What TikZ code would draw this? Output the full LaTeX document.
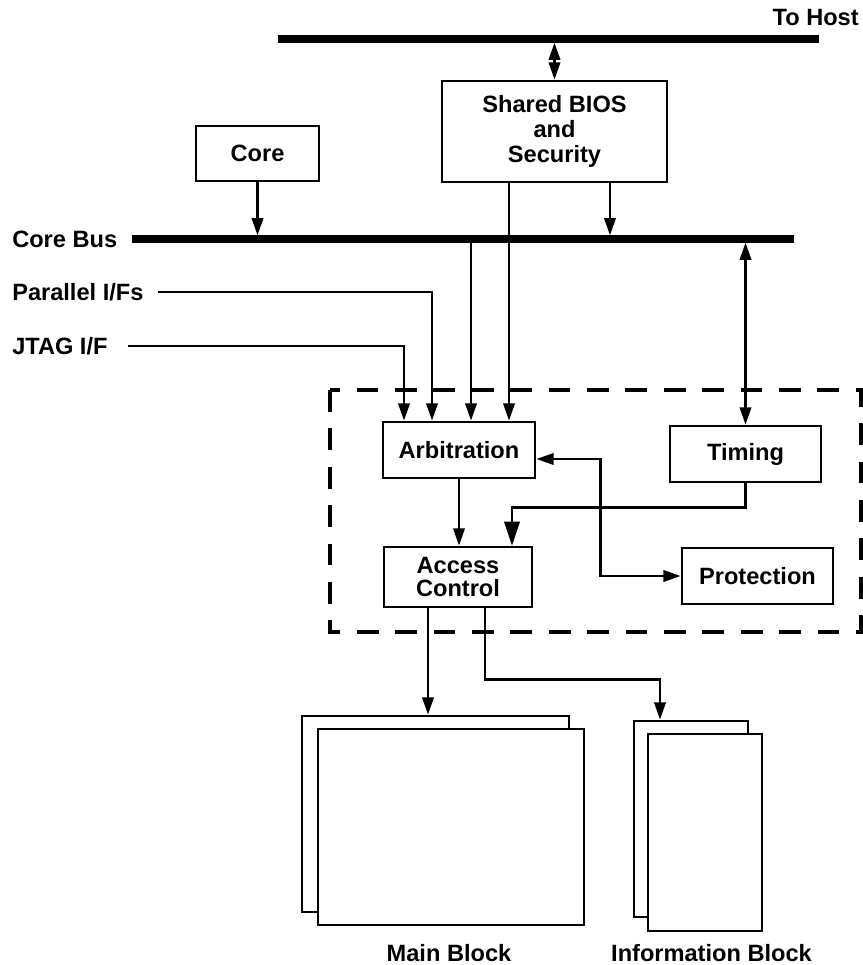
\documentclass[tikz,border=0pt]{standalone}
\usepackage{fontspec}
\setmainfont{Liberation Sans}
\usepackage{tikz}
\usetikzlibrary{arrows.meta,positioning,calc}
\tikzset{
  every node/.style={font=\bfseries\fontsize{17.7pt}{19pt}\selectfont},
  blk/.style={draw,line width=2pt,fill=white,align=center,inner sep=0pt},
  lbl/.style={inner sep=0pt},
  bus/.style={line width=5.5pt},
  wire/.style={line width=2pt},
  grp/.style={line width=2.3pt,dash pattern=on 16.3pt off 12.5pt},
  bigtip/.style={-{Triangle[length=18pt,width=11.5pt]}}
}

\begin{document}
\begin{tikzpicture}[x=.75pt,y=-.75pt,>={Triangle[length=13pt,width=8.5pt]}]
  \useasboundingbox (0,0) rectangle (863,965);
  \coordinate (hostW) at (278,39);
  \coordinate (hostE) at (819,39);
  \coordinate (busW) at (132,239);
  \coordinate (busE) at (794,239);
  \coordinate (parS) at (158,292);
  \coordinate (jtagS) at (128,346);

  \node[lbl,anchor=east] (host) at (859,17) {To Host};
  \node[lbl,anchor=west] (corebus) at (12,239) {Core Bus};
  \node[lbl,anchor=west] (par) at (12,292) {Parallel I/Fs};
  \node[lbl,anchor=west] (jtag) at (12,346) {JTAG I/F};

  \node[blk,minimum width=168.75pt,minimum height=75.75pt] (bios) at (554.5,131.5) {Shared BIOS\\and\\Security};
  \node[blk,minimum width=92.25pt,minimum height=41.25pt] (core) at (257.5,153.5) {Core};
  \node[blk,minimum width=114pt,minimum height=42pt] (arb) at (459,450) {Arbitration};
  \node[blk,minimum width=111pt,minimum height=45pt] (acc) at (458,577) {Access\\[-1.5pt]Control};
  \node[blk,minimum width=113.25pt,minimum height=42pt] (timing) at (745.5,454) {Timing};
  \node[blk,minimum width=113.25pt,minimum height=42pt] (prot) at (757.5,576) {Protection};

  \node[blk,minimum width=200.25pt,minimum height=147pt] (mainB) at (435.5,814) {};
  \node[blk,minimum width=199.5pt,minimum height=147pt] (mainF) at (451,827) {};
  \node[blk,minimum width=85.5pt,minimum height=147pt] (infoB) at (691,819) {};
  \node[blk,minimum width=85.5pt,minimum height=147.75pt] (infoF) at (705,832.5) {};
  \node[lbl] (mainL) at (449,953) {Main Block};
  \node[lbl] (infoL) at (711.5,953) {Information Block};

  \draw[grp] (330,390) rectangle (861,632);

  \coordinate (biosR) at ($(bios.south)+(55.5,0)$);
  \coordinate (arbIn1) at ($(arb.north)+(-55,0)$);
  \coordinate (arbIn2) at ($(arb.north)+(-27,0)$);
  \coordinate (arbIn3) at ($(arb.north)+(12,0)$);
  \coordinate (arbIn4) at ($(arb.north)+(50,0)$);
  \coordinate (accOut1) at ($(acc.south)+(-30,0)$);
  \coordinate (accOut2) at ($(acc.south)+(27,0)$);

  \draw[wire,<->,shorten <=2.7pt] (bios.north |- hostW) -- (bios.north);
  \draw[wire,->,shorten >=2.7pt] (core.south) -- (core.south |- busW);
  \draw[wire,->,shorten >=2.7pt] (biosR) -- (biosR |- busW);
  \draw[wire,->] (jtagS) -| (arbIn1);
  \draw[wire,->] (parS) -| (arbIn2);
  \draw[wire,->] (arbIn3 |- busW) -- (arbIn3);
  \draw[wire,->] (arbIn4 |- bios.south) -- (arbIn4);
  \draw[wire,<->,shorten <=2.7pt] (timing.north |- busE) -- (timing.north);
  \draw[wire,->] (arb.south) -- (arb.south |- acc.north);
  \draw[wire,bigtip] (timing.south) -- ++(0,24) -| ($(acc.north)+(54,0)$);
  \draw[wire,<->] ($(arb.east)+(0,9)$) -- ++(64,0) |- (prot.west);
  \draw[wire,->] (accOut1) -- (accOut1 |- mainB.north);
  \draw[wire,->] (accOut2) -- ++(0,71) -| ($(infoB.north)+(-31,0)$);

  \draw[bus] (hostW) -- (hostE);
  \draw[bus] (busW) -- (busE);
\end{tikzpicture}
\end{document}
